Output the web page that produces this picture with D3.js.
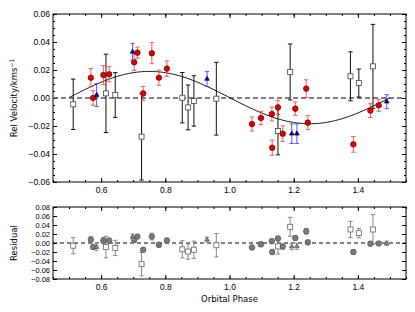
<!DOCTYPE html>
<html lang="en">
<head>
<meta charset="UTF-8">
<title>Radial velocity curve</title>
<script src="https://d3js.org/d3.v7.min.js"></script>
<style>
    body { margin: 0; background: #fff; }
    svg { display: block; font-family: "DejaVu Sans", sans-serif; }
    .tick text { font-size: 8.5px; fill: #000; }
    .tick line { stroke: #000; }
</style>
</head>
<body>
<svg width="415" height="312"></svg>
<script>
// red circles
const redPhase = [0.568, 0.575, 0.607, 0.625, 0.703, 0.713, 0.731, 0.758, 0.780, 0.805, 1.070, 1.098, 1.132, 1.133, 1.151, 1.166, 1.205, 1.239, 1.244, 1.386, 1.439, 1.465];
const redVel   = [0.0145, 0.000, 0.0164, 0.017, 0.0255, 0.0324, 0.0033, 0.032, 0.0145, 0.021, -0.0186, -0.0143, -0.0114, -0.0355, -0.0067, -0.0255, -0.0076, 0.0067, -0.0176, -0.0331, -0.009, -0.0052];
const redErr   = [0.0065, 0.0052, 0.0068, 0.0054, 0.0058, 0.004, 0.005, 0.0075, 0.0054, 0.0055, 0.005, 0.0048, 0.005, 0.0054, 0.005, 0.0056, 0.0048, 0.0063, 0.005, 0.0056, 0.0049, 0.0042];
const redRes   = [0.0075, -0.009, 0.0053, 0.0053, 0.007, 0.0143, -0.015, 0.0143, -0.004, 0.0053, -0.010, -0.003, 0.004, -0.020, 0.010, -0.008, 0.011, 0.026, 0.0015, -0.020, -0.0015, -0.001];

// blue triangles
const bluePhase = [0.586, 0.698, 0.930, 1.194, 1.210, 1.490];
const blueVel   = [0.0021, 0.033, 0.0136, -0.0255, -0.0255, -0.0026];
const blueErr   = [0.0082, 0.006, 0.0054, 0.007, 0.007, 0.005];
const blueRes   = [-0.009, 0.014, 0.0075, -0.008, -0.0075, -0.001];

// open squares
const squarePhase  = [0.513, 0.615, 0.644, 0.726, 0.853, 0.871, 0.889, 0.959, 1.151, 1.189, 1.377, 1.403, 1.447];
const squareVel    = [-0.0045, 0.0033, 0.0021, -0.0276, 0.0002, -0.0067, -0.0021, -0.0005, -0.0236, 0.0186, 0.0155, 0.0107, 0.0226];
const squareErr    = [0.018, 0.028, 0.016, 0.031, 0.018, 0.016, 0.018, 0.026, 0.017, 0.020, 0.0175, 0.010, 0.030];
const squareRes    = [-0.006, -0.009, -0.011, -0.047, -0.014, -0.019, -0.015, -0.005, -0.0075, 0.036, 0.030, 0.022, 0.030];
const squareResErr = [0.018, 0.024, 0.017, 0.026, 0.019, 0.017, 0.019, 0.026, 0.017, 0.021, 0.018, 0.0105, 0.033];

// fitted orbit
const fitAmplitude = 0.0187;
const fitGamma = 0.0003;
const fitPhaseZero = 0.5;
const fitRange = [0.5, 1.5];

const xTicks = [0.6, 0.8, 1.0, 1.2, 1.4];
const velTicks = [-0.06, -0.04, -0.02, 0.00, 0.02, 0.04, 0.06];
const resTicks = [-0.08, -0.06, -0.04, -0.02, 0.00, 0.02, 0.04, 0.06, 0.08];

const svg = d3.select("svg");
const left = 53, right = 406;
const top1 = 14, bot1 = 182;
const top2 = 207, bot2 = 279;

const x = d3.scaleLinear().domain([0.45, 1.55]).range([left, right]);
const yV = d3.scaleLinear().domain([-0.06, 0.06]).range([bot1, top1]);
const yR = d3.scaleLinear().domain([-0.08, 0.08]).range([bot2, top2]);
const fmt = d3.format(".2f");
const fmtX = d3.format(".1f");

function zip(ph, v, e) { return ph.map((p, i) => ({p: p, v: v[i], e: e[i]})); }

function drawAxes(g, y, yt, yMinor, top, bot, yFont) {
    const minorX = d3.range(0.45, 1.551, 0.05);
    g.append("g").attr("transform", `translate(0,${bot})`)
        .call(d3.axisBottom(x).tickValues(xTicks).tickSize(-4).tickPadding(5).tickFormat(fmtX));
    g.append("g").attr("transform", `translate(0,${bot})`)
        .call(d3.axisBottom(x).tickValues(minorX).tickSize(-2).tickFormat(""));
    g.append("g").attr("transform", `translate(0,${top})`)
        .call(d3.axisTop(x).tickValues(xTicks).tickSize(-4).tickFormat(""));
    g.append("g").attr("transform", `translate(0,${top})`)
        .call(d3.axisTop(x).tickValues(minorX).tickSize(-2).tickFormat(""));
    const yl = g.append("g").attr("transform", `translate(${left},0)`)
        .call(d3.axisLeft(y).tickValues(yt).tickSize(-4).tickPadding(3).tickFormat(fmt));
    yl.selectAll("text").style("font-size", yFont + "px");
    g.append("g").attr("transform", `translate(${right},0)`)
        .call(d3.axisRight(y).tickValues(yt).tickSize(-4).tickFormat(""));
    if (yMinor) {
        g.append("g").attr("transform", `translate(${left},0)`)
            .call(d3.axisLeft(y).tickValues(yMinor).tickSize(-2).tickFormat(""));
        g.append("g").attr("transform", `translate(${right},0)`)
            .call(d3.axisRight(y).tickValues(yMinor).tickSize(-2).tickFormat(""));
    }
    g.selectAll(".domain").remove();
    g.append("rect").attr("x", left).attr("y", top).attr("width", right - left).attr("height", bot - top)
        .attr("fill", "none").attr("stroke", "#000").attr("stroke-width", 1);
}

function errorBars(g, data, y, color, cap, op) {
    const eb = g.append("g").attr("stroke", color).attr("stroke-width", 1).attr("opacity", op);
    data.forEach(d => {
        const cx = x(d.p);
        eb.append("line").attr("x1", cx).attr("x2", cx).attr("y1", y(d.v - d.e)).attr("y2", y(d.v + d.e));
        [d.v - d.e, d.v + d.e].forEach(t => {
            eb.append("line").attr("x1", cx - cap).attr("x2", cx + cap).attr("y1", y(t)).attr("y2", y(t));
        });
    });
}

function squares(g, data, y, stroke) {
    g.selectAll(null).data(data).enter().append("rect")
        .attr("x", d => x(d.p) - 2.5).attr("y", d => y(d.v) - 2.5)
        .attr("width", 5).attr("height", 5)
        .attr("fill", "#fff").attr("stroke", stroke).attr("stroke-width", 0.8);
}
function circles(g, data, y, fill, stroke) {
    g.selectAll(null).data(data).enter().append("circle")
        .attr("cx", d => x(d.p)).attr("cy", d => y(d.v)).attr("r", 2.8)
        .attr("fill", fill).attr("stroke", stroke).attr("stroke-width", 0.6);
}
function triangles(g, data, y, fill, stroke) {
    const tri = d3.symbol().type(d3.symbolTriangle).size(10);
    g.selectAll(null).data(data).enter().append("path")
        .attr("d", tri)
        .attr("transform", d => `translate(${x(d.p)},${y(d.v)})`)
        .attr("fill", fill).attr("stroke", stroke).attr("stroke-width", 0.6);
}

// ---- top panel ----
const g1 = svg.append("g");
const velMinor = d3.range(-0.06, 0.0601, 0.005).filter(v => Math.abs(Math.round(v * 1000) % 20) !== 0);
drawAxes(g1, yV, velTicks, velMinor, top1, bot1, 8.5);

g1.append("line").attr("x1", left).attr("x2", right).attr("y1", yV(0)).attr("y2", yV(0))
    .attr("stroke", "#555").attr("stroke-width", 1.3).attr("stroke-dasharray", "5,3");

const curvePts = d3.range(fitRange[0], fitRange[1] + 0.0001, 0.005)
    .map(p => [p, fitGamma + fitAmplitude * Math.sin(2 * Math.PI * (p - fitPhaseZero))]);
g1.append("path").datum(curvePts)
    .attr("d", d3.line().x(d => x(d[0])).y(d => yV(d[1])))
    .attr("fill", "none").attr("stroke", "#111").attr("stroke-width", 1);

const sq = zip(squarePhase, squareVel, squareErr);
const rd = zip(redPhase, redVel, redErr);
const bl = zip(bluePhase, blueVel, blueErr);
errorBars(g1, sq, yV, "#111", 2.2, 1);
squares(g1, sq, yV, "#444");
errorBars(g1, rd, yV, "#ff3b3b", 2.2, 0.85);
circles(g1, rd, yV, "#e00000", "#400");
errorBars(g1, bl, yV, "#3b3bff", 2.2, 0.85);
triangles(g1, bl, yV, "#0000b0", "#001");

// ---- residual panel ----
const g2 = svg.append("g");
drawAxes(g2, yR, resTicks, null, top2, bot2, 7.5);
g2.append("line").attr("x1", left).attr("x2", right).attr("y1", yR(0)).attr("y2", yR(0))
    .attr("stroke", "#000").attr("stroke-width", 1).attr("stroke-dasharray", "4,3");

const sqR = zip(squarePhase, squareRes, squareResErr);
const rdR = zip(redPhase, redRes, redErr);
const blR = zip(bluePhase, blueRes, blueErr);
errorBars(g2, sqR, yR, "#888", 2.2, 1);
squares(g2, sqR, yR, "#666");
errorBars(g2, rdR, yR, "#999", 2.2, 1);
circles(g2, rdR, yR, "#7a7a7a", "#444");
errorBars(g2, blR, yR, "#999", 2.2, 1);
triangles(g2, blR, yR, "#8a8a8a", "#444");

// ---- labels ----
const vl = svg.append("text").attr("transform", `translate(17,${(top1 + bot1) / 2}) rotate(-90)`)
    .attr("text-anchor", "middle").style("font-size", "8.5px");
vl.append("tspan").text("Rel Velocity/kms");
vl.append("tspan").attr("dy", -3).style("font-size", "6px").text("\u22121");

svg.append("text").attr("transform", `translate(17,${(top2 + bot2) / 2}) rotate(-90)`)
    .attr("text-anchor", "middle").style("font-size", "8.5px").text("Residual");

svg.append("text").attr("x", (left + right) / 2).attr("y", 302)
    .attr("text-anchor", "middle").style("font-size", "8.5px").text("Orbital Phase");
</script>
</body>
</html>
